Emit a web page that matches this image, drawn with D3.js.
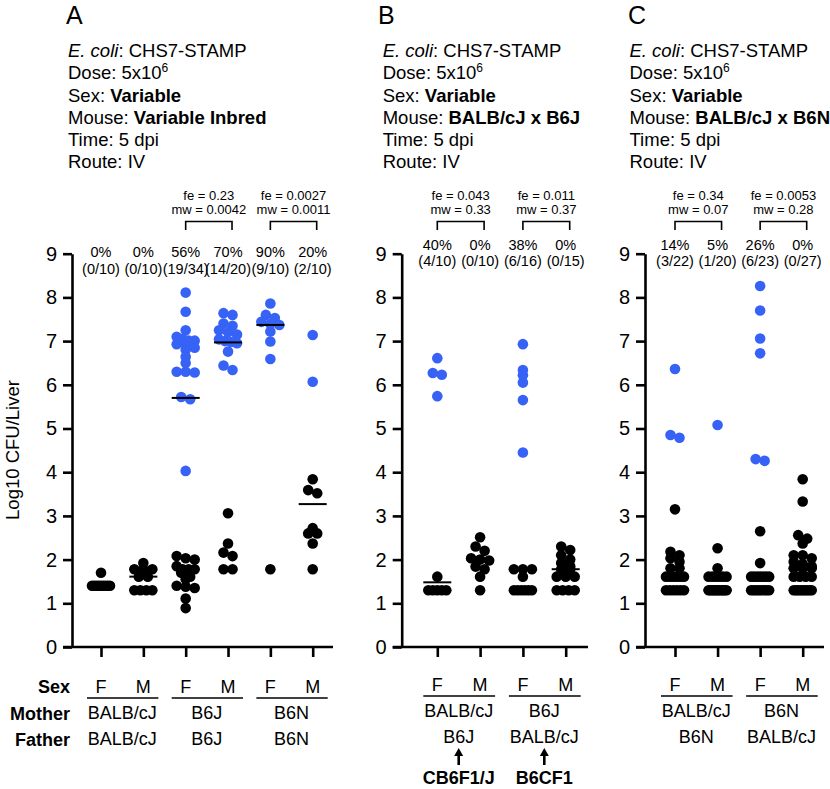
<!DOCTYPE html>
<html><head><meta charset="utf-8">
<script src="https://cdn.jsdelivr.net/npm/d3@7"></script>
<style>
body{margin:0;background:#fff;}
text{font-family:"Liberation Sans",Arial,Helvetica,sans-serif;fill:#000;}
</style></head>
<body><svg id="c" width="830" height="789"></svg>
<script>
// ---------------- DATA ----------------
const yTickValues = [0,1,2,3,4,5,6,7,8,9];
const panelLetters = ["A","B","C"];
const mouseText = ["Variable Inbred","BALB/cJ x B6J","BALB/cJ x B6N"];
const sexA = ["F","M","F","M","F","M"];
const sexB = ["F","M","F","M"];
const sexC = ["F","M","F","M"];
const motherA = ["BALB/cJ","B6J","B6N"];
const fatherA = ["BALB/cJ","B6J","B6N"];
const motherB = ["BALB/cJ","B6J"];
const fatherB = ["B6J","BALB/cJ"];
const hybridB = ["CB6F1/J","B6CF1"];
const motherC = ["BALB/cJ","B6N"];
const fatherC = ["B6N","BALB/cJ"];

const pctA = ["0%","0%","56%","70%","90%","20%"];
const fracA = ["(0/10)","(0/10)","(19/34)","(14/20)","(9/10)","(2/10)"];
const pctB = ["40%","0%","38%","0%"];
const fracB = ["(4/10)","(0/10)","(6/16)","(0/15)"];
const pctC = ["14%","5%","26%","0%"];
const fracC = ["(3/22)","(1/20)","(6/23)","(0/27)"];

const statsA = [{from:2,to:3,fe:"0.23",mw:"0.0042"},{from:4,to:5,fe:"0.0027",mw:"0.0011"}];
const statsB = [{from:0,to:1,fe:"0.043",mw:"0.33"},{from:2,to:3,fe:"0.011",mw:"0.37"}];
const statsC = [{from:0,to:1,fe:"0.34",mw:"0.07"},{from:2,to:3,fe:"0.0053",mw:"0.28"}];

const mediansA = [1.40, 1.61, 5.70, 6.97, 7.37, 3.27];
const mediansB = [1.48, 2.00, 1.78, 1.78];
const mediansC = [1.61, 1.30, 1.61, 1.80];

const positiveThreshold = 4.0;

const valuesA = [
  [1.70,1.40,1.40,1.40,1.40,1.40,1.40,1.40,1.40,1.40],
  [1.92,1.78,1.78,1.78,1.61,1.61,1.30,1.30,1.30,1.30],
  [8.11,7.67,7.25,7.10,7.05,7.01,7.01,6.93,6.93,6.85,6.80,6.64,6.50,6.30,6.30,6.28,5.72,5.67,4.03,
   2.08,2.03,2.00,1.85,1.78,1.78,1.78,1.70,1.61,1.55,1.40,1.38,1.35,1.11,0.89],
  [7.64,7.60,7.40,7.35,7.25,7.20,7.15,7.04,7.00,6.98,6.95,6.76,6.44,6.34,3.06,2.37,2.16,2.08,1.78,1.78],
  [7.86,7.60,7.53,7.44,7.39,7.37,7.22,6.99,6.59,1.78],
  [7.14,6.07,3.84,3.59,3.52,2.72,2.60,2.60,2.37,1.78]
];
const valuesB = [
  [6.61,6.27,6.23,5.74,1.61,1.30,1.30,1.30,1.30,1.30],
  [2.51,2.30,2.20,2.03,2.00,1.98,1.84,1.78,1.61,1.30],
  [6.93,6.34,6.22,6.05,5.65,4.45,1.78,1.78,1.78,1.61,1.30,1.30,1.30,1.30,1.30,1.30],
  [2.30,2.22,2.10,2.00,1.92,1.85,1.78,1.78,1.61,1.61,1.61,1.30,1.30,1.30,1.30]
];
const valuesC = [
  [6.36,4.85,4.79,3.15,2.18,2.10,2.03,1.95,1.80,1.80,1.61,1.61,1.61,1.61,1.61,1.61,1.30,1.30,1.30,1.30,1.30,1.30],
  [5.08,2.26,1.80,1.61,1.61,1.61,1.61,1.61,1.61,1.30,1.30,1.30,1.30,1.30,1.30,1.30,1.30,1.30,1.30,1.30],
  [8.26,7.70,7.06,6.72,4.30,4.26,2.65,1.92,1.61,1.61,1.61,1.61,1.61,1.61,1.61,1.30,1.30,1.30,1.30,1.30,1.30,1.30,1.30],
  [3.84,3.33,2.56,2.48,2.37,2.10,2.10,2.03,1.95,1.90,1.85,1.80,1.80,1.80,1.61,1.61,1.61,1.61,1.30,1.30,1.30,1.30,1.30,1.30,1.30,1.30,1.30]
];

// ---------------- LAYOUT ----------------
const BLUE = "#3762f6";
const svg = d3.select("#c");
const y = d3.scaleLinear().domain([0,9]).range([647, 253.7]);

const panels = [
  {letter:panelLetters[0], mouse:mouseText[0], values:valuesA, medians:mediansA, pct:pctA, frac:fracA, stats:statsA, sex:sexA,
   axisX:72, xr:[101,312.7], xEnd:333, letterX:66, textX:68, pctY:257, fracY:273.5, labY:693, mother:motherA, father:fatherA},
  {letter:panelLetters[1], mouse:mouseText[1], values:valuesB, medians:mediansB, pct:pctB, frac:fracB, stats:statsB, sex:sexB,
   axisX:401.7, xr:[437.3,565.7], xEnd:588, letterX:378, textX:382.7, pctY:249.5, fracY:265.5, labY:691, mother:motherB, father:fatherB, hybrid:hybridB},
  {letter:panelLetters[2], mouse:mouseText[2], values:valuesC, medians:mediansC, pct:pctC, frac:fracC, stats:statsC, sex:sexC,
   axisX:645, xr:[675,802.7], xEnd:824, letterX:628, textX:629.5, pctY:249.5, fracY:265.5, labY:691, mother:motherC, father:fatherC}
];

function swarm(vals, cx){
  const pts = vals.map(v=>({v, py:y(v)})).sort((a,b)=>a.py-b.py);
  const bins=[]; let cur=null;
  for(const p of pts){
    if(!cur || p.py-cur[0].py>5){cur=[p];bins.push(cur);} else cur.push(p);
  }
  bins.forEach(b=>{
    const k=b.length; const step = k>1? Math.min(9, 18/(k-1)) : 0;
    b.forEach((p,i)=>{p.px = cx + (i-(k-1)/2)*step;});
  });
  return pts;
}

// y-axis title
svg.append("text").attr("transform","translate(19,450) rotate(-90)")
  .attr("text-anchor","middle").style("font-size","18.5px").text("Log10 CFU/Liver");

// row labels
const rowLab = svg.append("g").attr("text-anchor","end").style("font-size","18px").style("font-weight","bold");
rowLab.append("text").attr("x",70).attr("y",693).text("Sex");
rowLab.append("text").attr("x",70).attr("y",719.5).text("Mother");
rowLab.append("text").attr("x",70).attr("y",745.5).text("Father");

panels.forEach(P=>{
  const g = svg.append("g");
  const ids = P.values.map((d,i)=>i);
  const x = d3.scalePoint().domain(ids).range(P.xr);

  // header
  g.append("text").attr("x",P.letterX).attr("y",23.5).style("font-size","25px").text(P.letter);
  const hdr = g.append("g").style("font-size","18.5px");
  const lines = [
    [["E. coli","italic",""],[": CHS7-STAMP","",""]],
    [["Dose: 5x10","",""],["6","","sup"]],
    [["Sex: ","",""],["Variable","","bold"]],
    [["Mouse: ","",""],[P.mouse,"","bold"]],
    [["Time: 5 dpi","",""]],
    [["Route: IV","",""]]
  ];
  lines.forEach((ln,i)=>{
    const t = hdr.append("text").attr("x",P.textX).attr("y",57.3+i*22.1);
    ln.forEach(s=>{
      const ts = t.append("tspan").text(s[0]);
      if(s[1]==="italic") ts.style("font-style","italic");
      if(s[2]==="bold") ts.style("font-weight","bold");
      if(s[2]==="sup") ts.attr("dy",-7).style("font-size","12px");
    });
  });

  // stats brackets
  P.stats.forEach(s=>{
    const x1 = x(s.from), x2 = x(s.to)+4, xm=(x1+x2)/2;
    g.append("path").attr("d",`M${x1},230V221.5H${x2}V230`).attr("fill","none").attr("stroke","#000").attr("stroke-width",1.6);
    g.append("text").attr("x",xm).attr("y",199.5).attr("text-anchor","middle").style("font-size","13px").text("fe = "+s.fe);
    g.append("text").attr("x",xm).attr("y",213.5).attr("text-anchor","middle").style("font-size","13px").text("mw = "+s.mw);
  });

  // percentages
  ids.forEach(i=>{
    g.append("text").attr("x",x(i)).attr("y",P.pctY).attr("text-anchor","middle").style("font-size","14.5px").text(P.pct[i]);
    g.append("text").attr("x",x(i)).attr("y",P.fracY).attr("text-anchor","middle").style("font-size","14.5px").text(P.frac[i]);
  });

  // y axis
  const ya = g.append("g").attr("transform",`translate(${P.axisX},0)`)
    .call(d3.axisLeft(y).tickValues(yTickValues).tickSize(9).tickSizeOuter(0).tickPadding(6).tickFormat(d3.format("d")));
  ya.selectAll("path,line").attr("stroke","#000").attr("stroke-width",2.6);
  ya.selectAll("text").style("font-size","20px").attr("font-family",null);

  // x axis
  const xa = g.append("g").attr("transform","translate(0,647)")
    .call(d3.axisBottom(x).tickSize(10).tickFormat(""));
  xa.select(".domain").remove();
  xa.selectAll("line").attr("stroke","#000").attr("stroke-width",2.6);
  g.append("line").attr("x1",P.axisX-9).attr("x2",P.xEnd).attr("y1",647).attr("y2",647)
    .attr("stroke","#000").attr("stroke-width",2.6);

  // dots
  ids.forEach(i=>{
    const pts = swarm(P.values[i], x(i));
    g.append("g").selectAll("circle").data(pts).join("circle")
      .attr("cx",d=>d.px).attr("cy",d=>d.py).attr("r",5.3)
      .attr("fill",d=>d.v>=positiveThreshold?BLUE:"#000");
  });
  // medians
  g.append("g").selectAll("line").data(P.medians).join("line")
    .attr("x1",(d,i)=>x(i)-14).attr("x2",(d,i)=>x(i)+14)
    .attr("y1",d=>y(d)).attr("y2",d=>y(d)).attr("stroke","#000").attr("stroke-width",2);

  // bottom labels
  const lab = g.append("g").style("font-size","18px").attr("text-anchor","middle");
  ids.forEach(i=>{
    lab.append("text").attr("x",x(i)).attr("y",P.labY).text(P.sex[i]);
  });
  P.mother.forEach((m,j)=>{
    const xl = x(2*j), xr = x(2*j+1), xm = (xl+xr)/2;
    lab.append("line").attr("x1",xl-14).attr("x2",xr+15).attr("y1",P.labY+5).attr("y2",P.labY+5)
      .attr("stroke","#000").attr("stroke-width",1.6);
    lab.append("text").attr("x",xm).attr("y",P.labY+26).text(m);
    lab.append("text").attr("x",xm).attr("y",P.labY+52).text(P.father[j]);
    if(P.hybrid){
      lab.append("line").attr("x1",xm).attr("x2",xm).attr("y1",P.labY+63).attr("y2",P.labY+74)
        .attr("stroke","#000").attr("stroke-width",2.6);
      lab.append("path").attr("d",`M${xm},${P.labY+57}L${xm-4.5},${P.labY+65}L${xm+4.5},${P.labY+65}Z`).attr("fill","#000");
      lab.append("text").attr("x",xm).attr("y",P.labY+93).style("font-weight","bold").text(P.hybrid[j]);
    }
  });
});
</script></body></html>
